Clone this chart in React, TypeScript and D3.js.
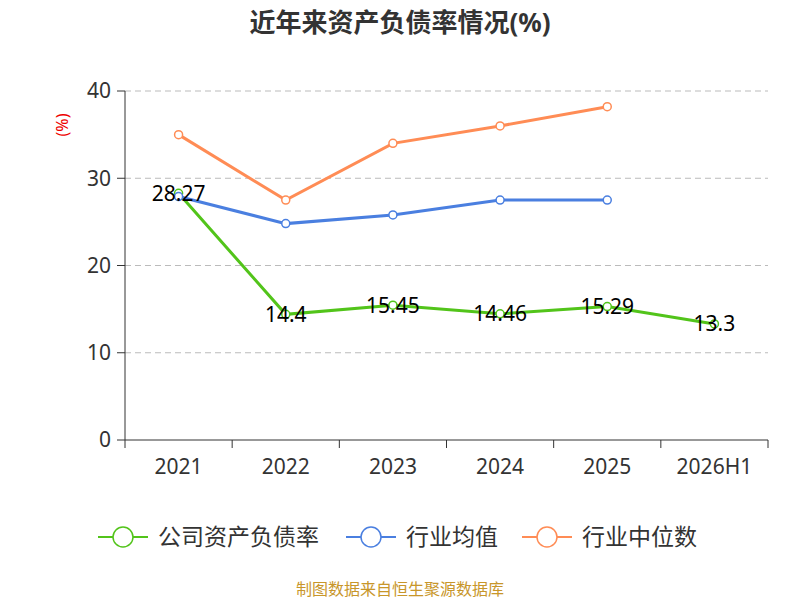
import * as d3 from 'd3';

const categories = ['2021', '2022', '2023', '2024', '2025', '2026H1'];
const company = [28.27, 14.4, 15.45, 14.46, 15.29, 13.3];
const industryAvg = [27.9, 24.8, 25.8, 27.5, 27.5];
const industryMedian = [35, 27.5, 34, 36, 38.2];
const yTicks = [0, 10, 20, 30, 40];

const series = [
  { name: '公司资产负债率', color: '#52c41a', values: company },
  { name: '行业均值', color: '#4a7fe0', values: industryAvg },
  { name: '行业中位数', color: '#ff8c55', values: industryMedian },
];

const font = '"Noto Sans", "Noto Sans CJK SC", sans-serif';

export default function App() {
  const left = 125, right = 768, top = 91, bottom = 440;
  const x = d3.scaleBand().domain(categories).range([left, right]);
  const y = d3.scaleLinear().domain([0, 40]).range([bottom, top]);
  const cx = (i: number) => (x(categories[i]) as number) + x.bandwidth() / 2;
  const line = d3.line<number>().x((_, i) => cx(i)).y((d) => y(d));

  return (
    <svg width={800} height={600} style={{ position: 'absolute', left: 0, top: 0 }} fontFamily={font}>
      <text x={400} y={32} textAnchor="middle" fontSize={26} fontWeight="bold" fill="#333">近年来资产负债率情况(%)</text>
      <text transform="translate(68,125) rotate(-90)" textAnchor="middle" fontSize={16} fill="#e00">(%)</text>
      {yTicks.map((t) => (
        <g key={t}>
          {t > 0 && <line x1={left} x2={right} y1={y(t)} y2={y(t)} stroke="#bbb" strokeDasharray="6,4" />}
          <line x1={left - 8} x2={left} y1={y(t)} y2={y(t)} stroke="#333" />
          <text x={left - 14} y={y(t)} dy="0.35em" textAnchor="end" fontSize={21} fill="#333">{t}</text>
        </g>
      ))}
      <line x1={left} x2={left} y1={top} y2={bottom} stroke="#333" />
      <line x1={left} x2={right} y1={bottom} y2={bottom} stroke="#333" />
      {categories.map((c, i) => (
        <g key={c}>
          <line x1={x(c) as number} x2={x(c) as number} y1={bottom} y2={bottom + 8} stroke="#333" />
          <text x={cx(i)} y={bottom + 34} textAnchor="middle" fontSize={21} fill="#333">{c}</text>
        </g>
      ))}
      <line x1={right} x2={right} y1={bottom} y2={bottom + 8} stroke="#333" />
      {series.map((s) => (
        <g key={s.name}>
          <path d={line(s.values) as string} fill="none" stroke={s.color} strokeWidth={3} />
          {s.values.map((v, i) => (
            <circle key={i} cx={cx(i)} cy={y(v)} r={4} fill="#fff" stroke={s.color} strokeWidth={1.5} />
          ))}
        </g>
      ))}
      {company.map((v, i) => (
        <text key={i} x={cx(i)} y={y(v)} dy="0.35em" textAnchor="middle" fontSize={21} fill="#000">{v}</text>
      ))}
      {series.map((s, i) => {
        const lx = [98, 346, 522][i];
        return (
          <g key={s.name}>
            <line x1={lx} x2={lx + 50} y1={537} y2={537} stroke={s.color} strokeWidth={2} />
            <circle cx={lx + 25} cy={537} r={10} fill="#fff" stroke={s.color} strokeWidth={1.5} />
            <text x={lx + 60} y={537} dy="0.35em" fontSize={23} fill="#333">{s.name}</text>
          </g>
        );
      })}
      <text x={400} y={595} textAnchor="middle" fontSize={16} fill="#c8962a">制图数据来自恒生聚源数据库</text>
    </svg>
  );
}
